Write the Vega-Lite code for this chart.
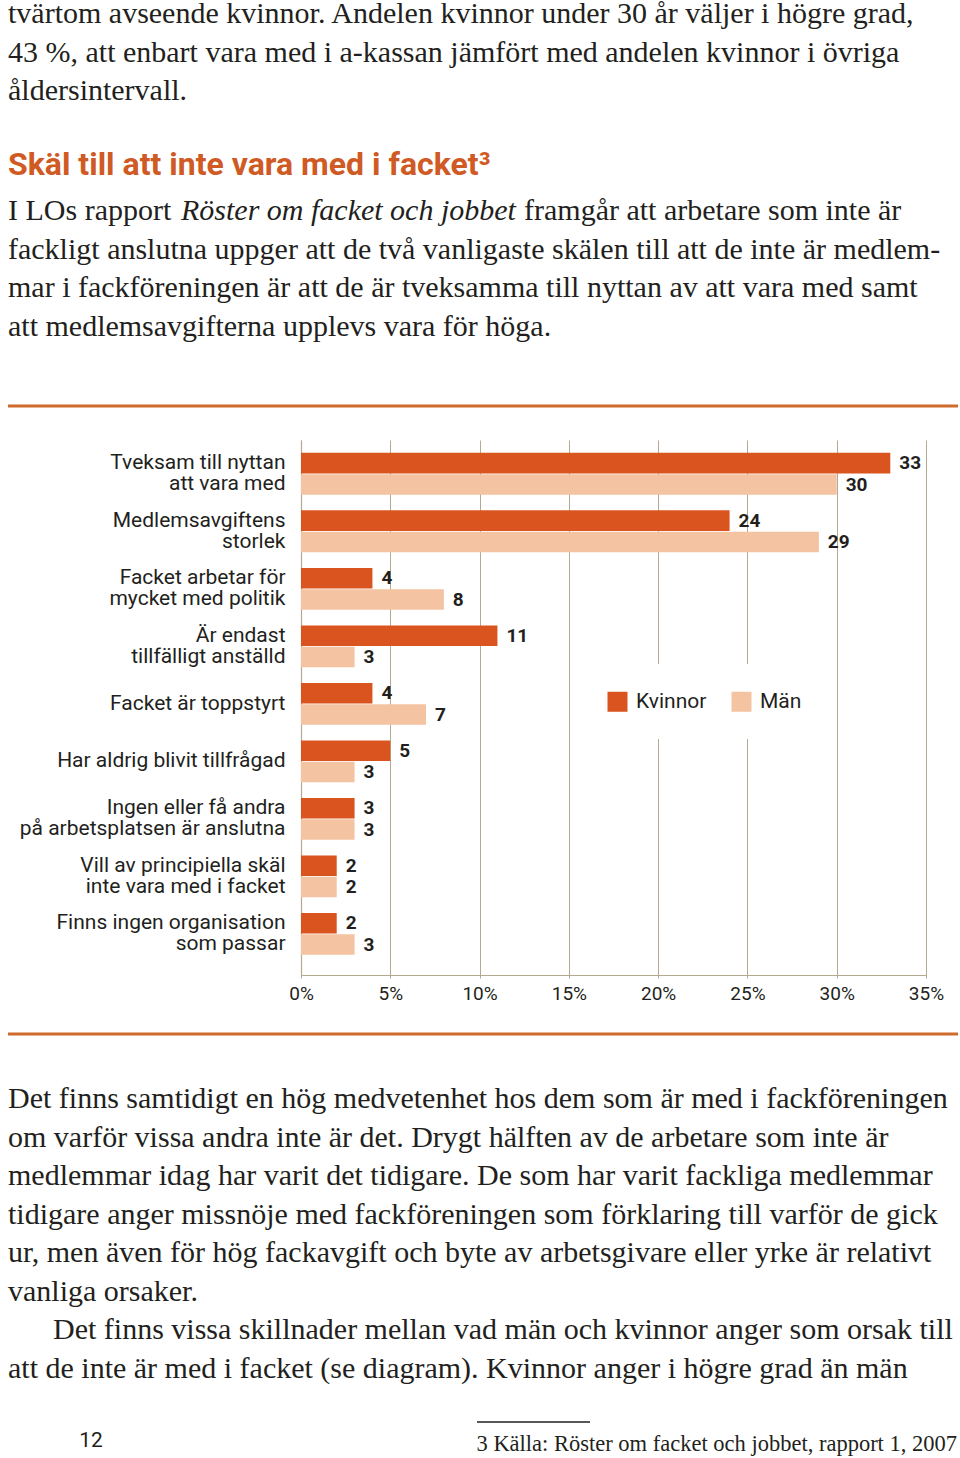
{
  "$schema": "https://vega.github.io/schema/vega-lite/v6.json",
  "width": 960,
  "height": 535,
  "autosize": {"type": "none"},
  "padding": {"top": 440, "bottom": 483, "left": 0, "right": 0},
  "background": "white",
  "config": {"view": {"stroke": null}},
  "datasets": {
    "survey": [
      {"reason": "Tveksam till nyttan\natt vara med", "group": "Kvinnor", "percent": 33},
      {"reason": "Tveksam till nyttan\natt vara med", "group": "Män", "percent": 30},
      {"reason": "Medlemsavgiftens\nstorlek", "group": "Kvinnor", "percent": 24},
      {"reason": "Medlemsavgiftens\nstorlek", "group": "Män", "percent": 29},
      {"reason": "Facket arbetar för\nmycket med politik", "group": "Kvinnor", "percent": 4},
      {"reason": "Facket arbetar för\nmycket med politik", "group": "Män", "percent": 8},
      {"reason": "Är endast\ntillfälligt anställd", "group": "Kvinnor", "percent": 11},
      {"reason": "Är endast\ntillfälligt anställd", "group": "Män", "percent": 3},
      {"reason": "Facket är toppstyrt", "group": "Kvinnor", "percent": 4},
      {"reason": "Facket är toppstyrt", "group": "Män", "percent": 7},
      {"reason": "Har aldrig blivit tillfrågad", "group": "Kvinnor", "percent": 5},
      {"reason": "Har aldrig blivit tillfrågad", "group": "Män", "percent": 3},
      {"reason": "Ingen eller få andra\npå arbetsplatsen är anslutna", "group": "Kvinnor", "percent": 3},
      {"reason": "Ingen eller få andra\npå arbetsplatsen är anslutna", "group": "Män", "percent": 3},
      {"reason": "Vill av principiella skäl\ninte vara med i facket", "group": "Kvinnor", "percent": 2},
      {"reason": "Vill av principiella skäl\ninte vara med i facket", "group": "Män", "percent": 2},
      {"reason": "Finns ingen organisation\nsom passar", "group": "Kvinnor", "percent": 2},
      {"reason": "Finns ingen organisation\nsom passar", "group": "Män", "percent": 3}
    ],
    "intro": [
      {"line": 1, "text": "tvärtom avseende kvinnor. Andelen kvinnor under 30 år väljer i högre grad,"},
      {"line": 2, "text": "43 %, att enbart vara med i a-kassan jämfört med andelen kvinnor i övriga"},
      {"line": 3, "text": "åldersintervall."}
    ],
    "heading": [
      {"line": 1, "text": "Skäl till att inte vara med i facket³"}
    ],
    "para": [
      {"line": 1, "text": "I LOs rapport"},
      {"line": 2, "text": "fackligt anslutna uppger att de två vanligaste skälen till att de inte är medlem-"},
      {"line": 3, "text": "mar i fackföreningen är att de är tveksamma till nyttan av att vara med samt"},
      {"line": 4, "text": "att medlemsavgifterna upplevs vara för höga."}
    ],
    "paraTitle": [{"line": 1, "text": "Röster om facket och jobbet"}],
    "paraRest": [{"line": 1, "text": "framgår att arbetare som inte är"}],
    "body": [
      {"line": 1, "text": "Det finns samtidigt en hög medvetenhet hos dem som är med i fackföreningen"},
      {"line": 2, "text": "om varför vissa andra inte är det. Drygt hälften av de arbetare som inte är"},
      {"line": 3, "text": "medlemmar idag har varit det tidigare. De som har varit fackliga medlemmar"},
      {"line": 4, "text": "tidigare anger missnöje med fackföreningen som förklaring till varför de gick"},
      {"line": 5, "text": "ur, men även för hög fackavgift och byte av arbetsgivare eller yrke är relativt"},
      {"line": 6, "text": "vanliga orsaker."},
      {"line": 7, "text": "\u200d\u00a0\u00a0\u00a0\u00a0\u00a0\u00a0Det finns vissa skillnader mellan vad män och kvinnor anger som orsak till"},
      {"line": 8, "text": "att de inte är med i facket (se diagram). Kvinnor anger i högre grad än män"}
    ],
    "pageno": [{"line": 1, "text": "12"}],
    "footnote": [{"line": 1, "text": "3 Källa: Röster om facket och jobbet, rapport 1, 2007"}],
    "dividers": [{"rule": "ovanför diagram"}, {"rule": "under diagram"}],
    "footrule": [{"rule": "fotnot"}]
  },
  "resolve": {"scale": {"x": "independent", "y": "independent", "color": "independent"}},
  "layer": [
    {
      "data": {"name": "survey"},
      "encoding": {
        "y": {
          "field": "reason", "type": "nominal", "sort": null,
          "scale": {"paddingInner": 0.27, "paddingOuter": 0.287, "align": 0.39},
          "axis": {
            "title": null, "orient": "left", "offset": -301, "ticks": false, "grid": false,
            "domainColor": "#b5aa90", "domainWidth": 1.2, "labelPadding": 16,
            "labelFont": "Liberation Sans Narrow, Roboto", "labelFontSize": 21, "labelColor": "#231f20",
            "labelLineHeight": 21, "labelExpr": "split(datum.label, '\\n')", "labelLimit": 400,
            "labelOffset": {"condition": {"test": "indexof(datum.label, '\\n') >= 0", "value": -10.5}, "value": 0}
          }
        },
        "yOffset": {"field": "group", "type": "nominal", "sort": ["Kvinnor", "Män"], "scale": {"paddingInner": 0.04}},
        "x": {
          "field": "percent", "type": "quantitative",
          "scale": {"domain": [0, 35], "range": [301, 926], "nice": false},
          "axis": {
            "title": null, "values": [0, 5, 10, 15, 20, 25, 30, 35], "labelExpr": "datum.value + '%'",
            "grid": true, "gridColor": "#b5aa90", "gridWidth": 1,
            "domainColor": "#b5aa90", "domainWidth": 1.2, "ticks": true, "tickColor": "#b5aa90", "tickSize": 3,
            "labelPadding": 6, "labelFont": "Liberation Sans Narrow, Roboto", "labelFontSize": 19,
            "labelColor": "#231f20", "labelFlush": false
          }
        }
      },
      "layer": [
        {
          "mark": {"type": "bar"},
          "encoding": {
            "color": {
              "field": "group", "type": "nominal",
              "scale": {"domain": ["Kvinnor", "Män"], "range": ["#d9541e", "#f4c3a2"]},
              "legend": {
                "title": null, "orient": "none", "legendX": 580, "legendY": 224, "direction": "horizontal",
                "padding": 27, "fillColor": "white", "symbolType": "square", "symbolSize": 400,
                "symbolStrokeWidth": 0, "symbolOpacity": 1, "labelFont": "Liberation Sans Narrow, Roboto",
                "labelFontSize": 21, "labelColor": "#231f20", "labelOffset": 8, "columnPadding": 24
              }
            }
          }
        },
        {
          "mark": {"type": "text", "align": "left", "baseline": "middle", "dx": 9, "font": "Liberation Sans Narrow, Roboto", "fontSize": 19, "fontWeight": "bold", "color": "#231f20"},
          "encoding": {"text": {"field": "percent", "type": "quantitative"}}
        }
      ]
    },
    {
      "data": {"name": "intro"},
      "mark": {"type": "text", "align": "left", "baseline": "alphabetic", "font": "Liberation Serif", "fontSize": 30, "color": "#231f20"},
      "encoding": {
        "x": {"value": 8},
        "y": {"field": "line", "type": "ordinal", "scale": {"type": "point", "range": [-417, -340], "padding": 0}, "axis": null},
        "text": {"field": "text"}
      }
    },
    {
      "data": {"name": "heading"},
      "mark": {"type": "text", "align": "left", "baseline": "alphabetic", "font": "Liberation Sans Narrow, Roboto", "fontSize": 32, "fontWeight": "bold", "color": "#d05a24"},
      "encoding": {
        "x": {"value": 8},
        "y": {"field": "line", "type": "ordinal", "scale": {"type": "point", "range": [-265, -265], "padding": 0}, "axis": null},
        "text": {"field": "text"}
      }
    },
    {
      "data": {"name": "para"},
      "mark": {"type": "text", "align": "left", "baseline": "alphabetic", "font": "Liberation Serif", "fontSize": 30, "color": "#231f20"},
      "encoding": {
        "x": {"value": 8},
        "y": {"field": "line", "type": "ordinal", "scale": {"type": "point", "range": [-220, -104], "padding": 0}, "axis": null},
        "text": {"field": "text"}
      }
    },
    {
      "data": {"name": "paraTitle"},
      "mark": {"type": "text", "align": "left", "baseline": "alphabetic", "font": "Liberation Serif", "fontSize": 30, "fontStyle": "italic", "color": "#231f20"},
      "encoding": {
        "x": {"value": 181},
        "y": {"field": "line", "type": "ordinal", "scale": {"type": "point", "range": [-220, -220], "padding": 0}, "axis": null},
        "text": {"field": "text"}
      }
    },
    {
      "data": {"name": "paraRest"},
      "mark": {"type": "text", "align": "left", "baseline": "alphabetic", "font": "Liberation Serif", "fontSize": 30, "color": "#231f20"},
      "encoding": {
        "x": {"value": 524},
        "y": {"field": "line", "type": "ordinal", "scale": {"type": "point", "range": [-220, -220], "padding": 0}, "axis": null},
        "text": {"field": "text"}
      }
    },
    {
      "data": {"name": "body"},
      "mark": {"type": "text", "align": "left", "baseline": "alphabetic", "font": "Liberation Serif", "fontSize": 30, "color": "#231f20"},
      "encoding": {
        "x": {"value": 8},
        "y": {"field": "line", "type": "ordinal", "scale": {"type": "point", "range": [668, 938], "padding": 0}, "axis": null},
        "text": {"field": "text"}
      }
    },
    {
      "data": {"name": "dividers"},
      "mark": {"type": "rule", "color": "#cf6b2c", "strokeWidth": 3},
      "encoding": {
        "x": {"value": 8},
        "x2": {"value": 958},
        "y": {"field": "rule", "type": "nominal", "sort": null, "scale": {"type": "point", "range": [-34, 594], "padding": 0}, "axis": null}
      }
    },
    {
      "data": {"name": "footrule"},
      "mark": {"type": "rule", "color": "#231f20", "strokeWidth": 1.5},
      "encoding": {
        "x": {"value": 477},
        "x2": {"value": 590},
        "y": {"field": "rule", "type": "nominal", "scale": {"type": "point", "range": [982, 982], "padding": 0}, "axis": null}
      }
    },
    {
      "data": {"name": "pageno"},
      "mark": {"type": "text", "align": "center", "baseline": "alphabetic", "font": "Liberation Sans Narrow, Roboto", "fontSize": 21, "color": "#231f20"},
      "encoding": {
        "x": {"value": 91},
        "y": {"field": "line", "type": "ordinal", "scale": {"type": "point", "range": [1007, 1007], "padding": 0}, "axis": null},
        "text": {"field": "text"}
      }
    },
    {
      "data": {"name": "footnote"},
      "mark": {"type": "text", "align": "right", "baseline": "alphabetic", "font": "Liberation Serif", "fontSize": 22.5, "color": "#231f20"},
      "encoding": {
        "x": {"value": 957},
        "y": {"field": "line", "type": "ordinal", "scale": {"type": "point", "range": [1011, 1011], "padding": 0}, "axis": null},
        "text": {"field": "text"}
      }
    }
  ]
}
